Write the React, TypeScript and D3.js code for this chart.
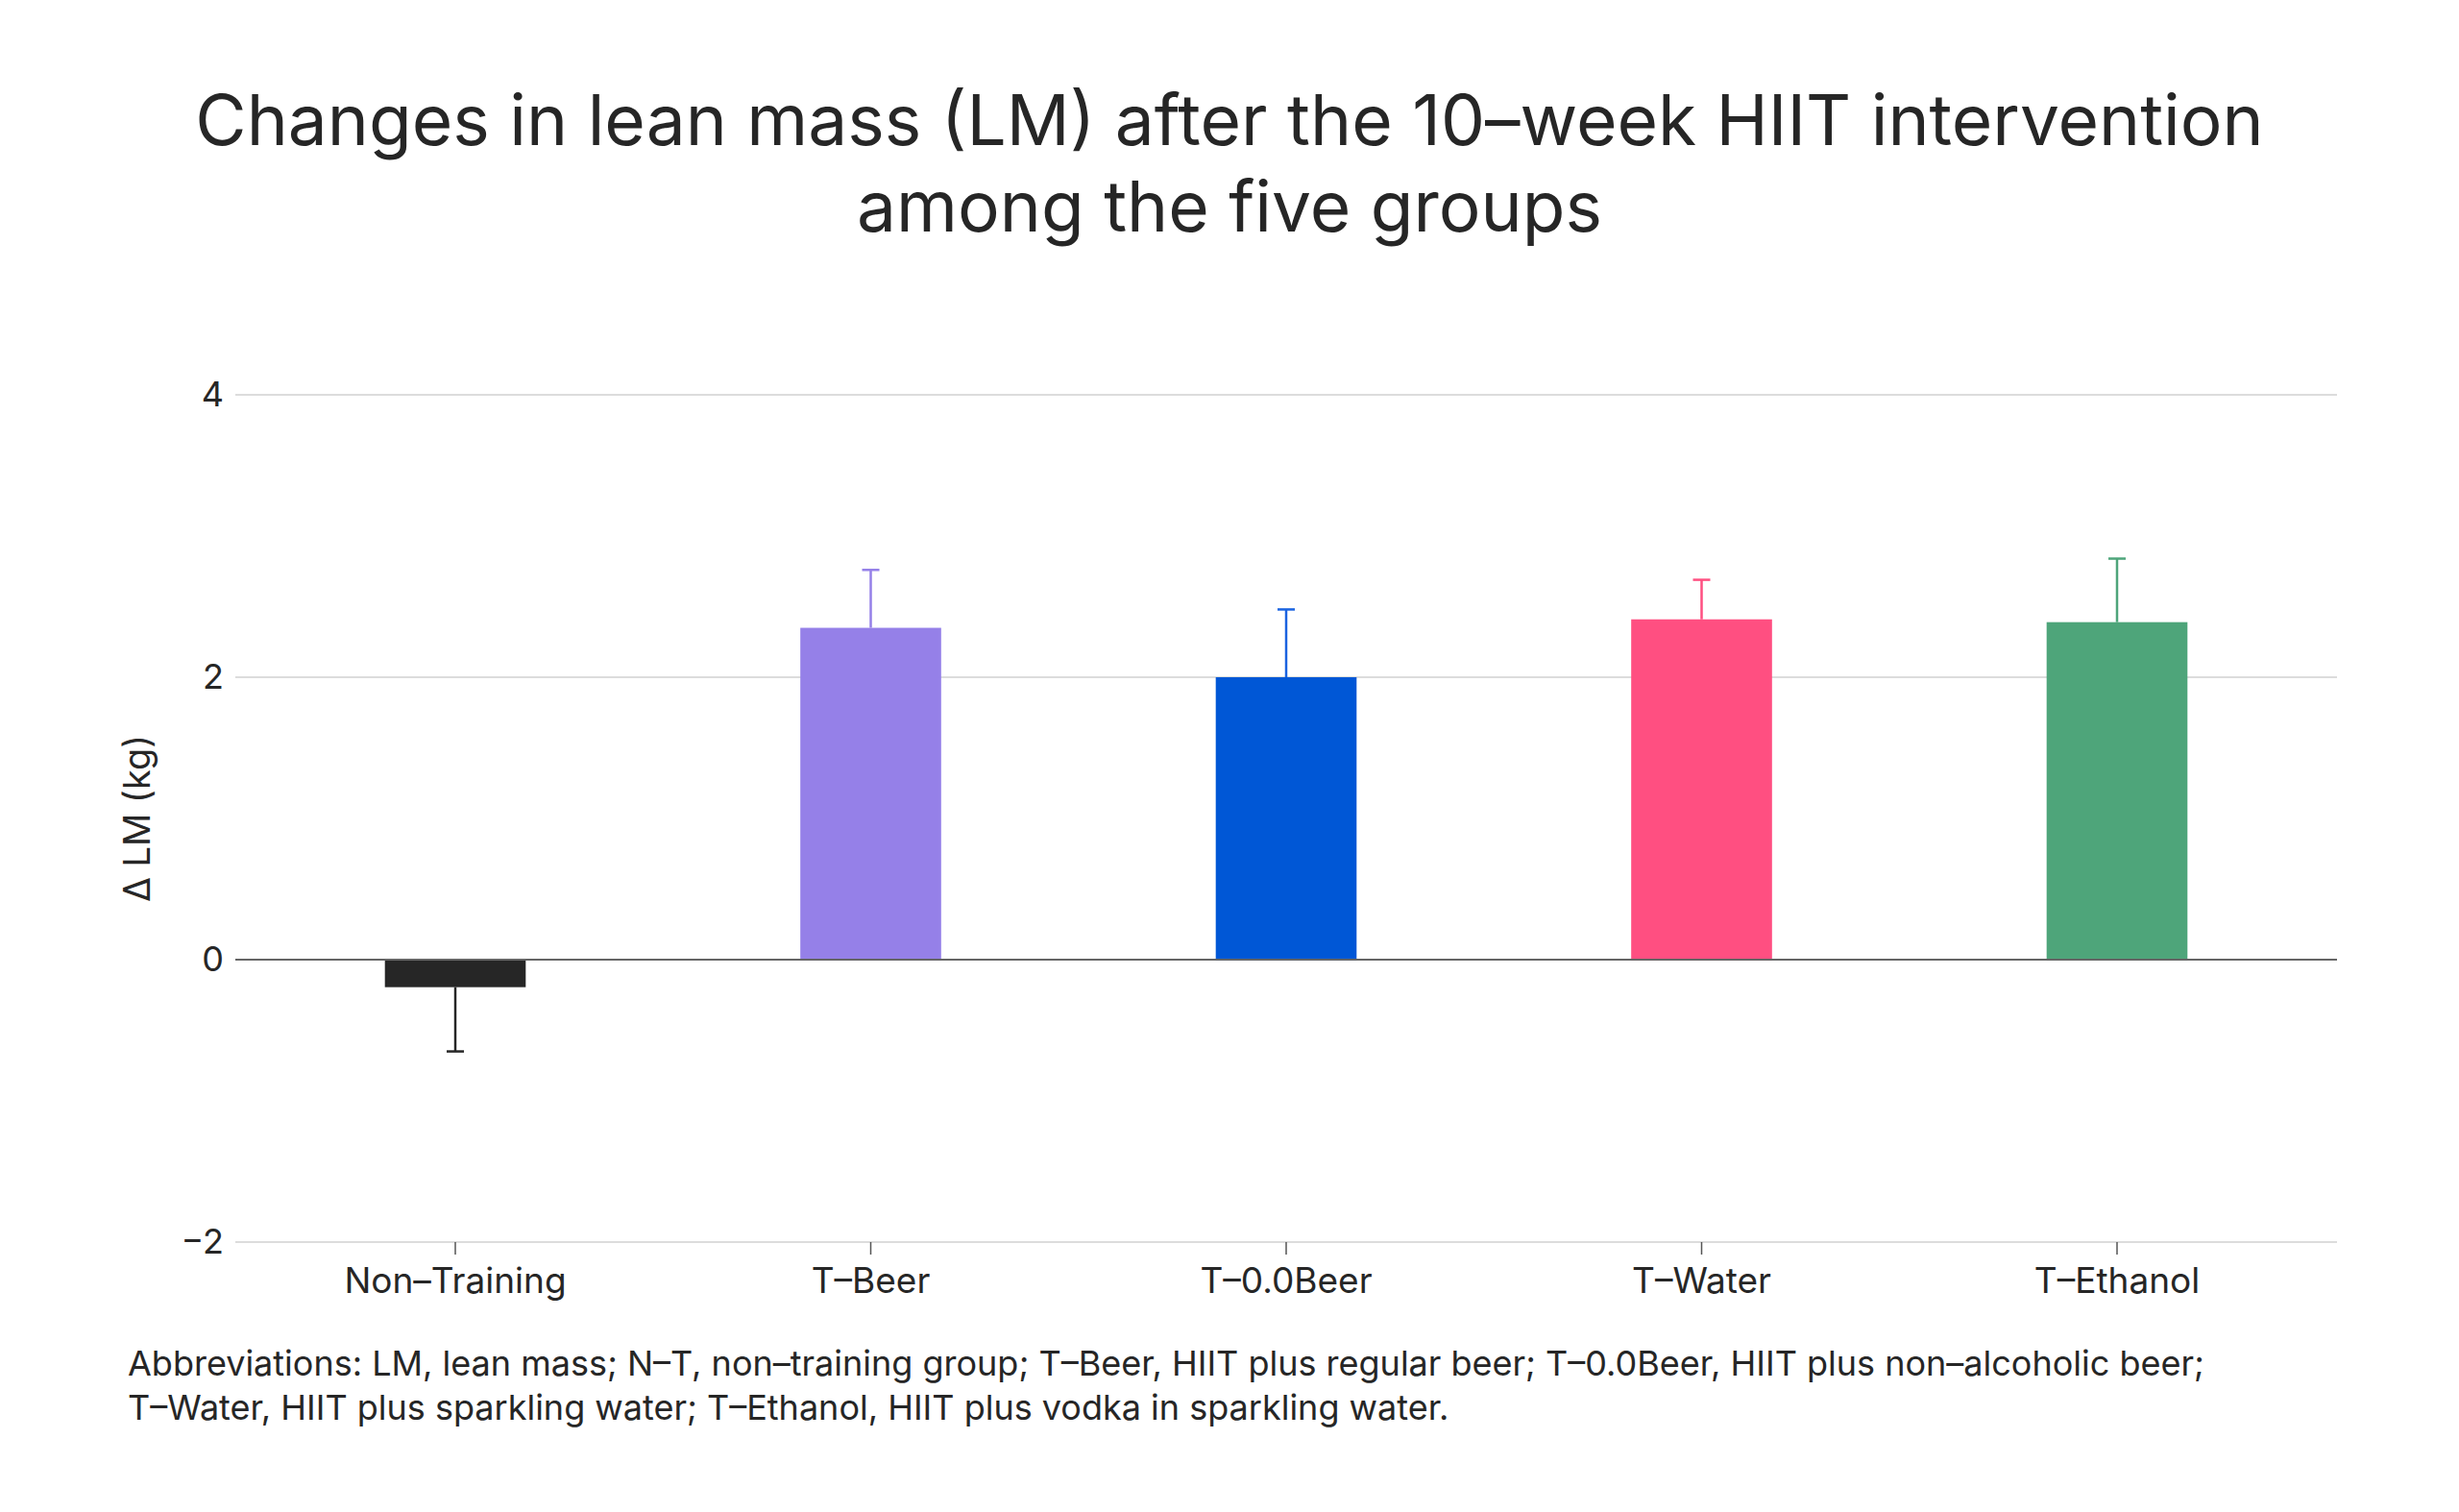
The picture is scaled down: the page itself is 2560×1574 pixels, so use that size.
import { useEffect, useRef } from 'react'
import * as d3 from 'd3'

const groups = ['Non-Training', 'T-Beer', 'T-0.0Beer', 'T-Water', 'T-Ethanol']
const meanChange = [-0.195, 2.35, 2.0, 2.41, 2.39]
const errorSize = [0.455, 0.41, 0.48, 0.28, 0.45]
const barColors = ['#262626', '#9580E8', '#0057D6', '#FF4F81', '#4EA57A']
const errorColors = ['#262626', '#9580E8', '#1A63E0', '#FF4F81', '#4EA57A']
const yTicks = [-2, 0, 2, 4]

const titleLines = [
  'Changes in lean mass (LM) after the 10-week HIIT intervention',
  'among the five groups',
]
const footnoteLines = [
  'Abbreviations: LM, lean mass; N-T, non-training group; T-Beer, HIIT plus regular beer; T-0.0Beer, HIIT plus non-alcoholic beer;',
  'T-Water, HIIT plus sparkling water; T-Ethanol, HIIT plus vodka in sparkling water.',
]

const W = 2560
const H = 1574
const FONT = 'Inter, "Noto Sans", sans-serif'
const INK = '#262626'
const dash = (s: string) => s.replace(/-/g, '\u2013')

export default function App() {
  const svgRef = useRef<SVGSVGElement>(null)

  useEffect(() => {
    document.body.style.margin = '0'
    if (!svgRef.current) return
    const svg = d3.select(svgRef.current)
    svg.selectAll('*').remove()

    const left = 245
    const right = 2433
    const top = 411
    const bottom = 1293

    const x = d3
      .scaleBand()
      .domain(groups)
      .range([left, right])
      .paddingInner(0.661)
      .paddingOuter(0.36)

    const y = d3.scaleLinear().domain([-2, 4]).range([bottom, top])

    svg.append('rect').attr('width', W).attr('height', H).attr('fill', '#fff')

    // title
    svg
      .append('g')
      .selectAll('text')
      .data(titleLines)
      .enter()
      .append('text')
      .attr('x', W / 2)
      .attr('y', (_, i) => 151 + i * 90)
      .attr('text-anchor', 'middle')
      .attr('font-family', FONT)
      .attr('font-size', 73)
      .attr('fill', INK)
      .text((d) => dash(d))

    // gridlines
    svg
      .append('g')
      .selectAll('line')
      .data(yTicks.filter((t) => t !== 0))
      .enter()
      .append('line')
      .attr('x1', left)
      .attr('x2', right)
      .attr('y1', (d) => y(d))
      .attr('y2', (d) => y(d))
      .attr('stroke', '#DCDCDC')
      .attr('stroke-width', 2)

    // y axis labels
    svg
      .append('g')
      .attr('transform', `translate(${left},0)`)
      .call(d3.axisLeft(y).tickValues(yTicks).tickSize(0).tickPadding(12).tickFormat((d) => d3.format('')(d as number).replace('-', '\u2212')))
      .call((axis) => {
        axis.select('.domain').remove()
        axis
          .selectAll('text')
          .attr('fill', INK)
          .attr('font-family', FONT)
          .attr('font-size', 36)
      })

    // bars
    svg
      .append('g')
      .selectAll('rect')
      .data(groups)
      .enter()
      .append('rect')
      .attr('x', (d) => x(d) ?? 0)
      .attr('width', x.bandwidth())
      .attr('y', (_, i) => y(Math.max(0, meanChange[i])))
      .attr('height', (_, i) => Math.abs(y(meanChange[i]) - y(0)))
      .attr('fill', (_, i) => barColors[i])

    // error bars (one-sided, away from zero)
    const err = svg.append('g').selectAll('g').data(groups).enter().append('g')
    const tip = (i: number) => meanChange[i] + Math.sign(meanChange[i]) * errorSize[i]
    const cx = (d: string) => (x(d) ?? 0) + x.bandwidth() / 2
    err
      .append('line')
      .attr('x1', cx)
      .attr('x2', cx)
      .attr('y1', (_, i) => y(meanChange[i]))
      .attr('y2', (_, i) => y(tip(i)))
      .attr('stroke', (_, i) => errorColors[i])
      .attr('stroke-width', 2.5)
    err
      .append('line')
      .attr('x1', (d) => cx(d) - 9)
      .attr('x2', (d) => cx(d) + 9)
      .attr('y1', (_, i) => y(tip(i)))
      .attr('y2', (_, i) => y(tip(i)))
      .attr('stroke', (_, i) => errorColors[i])
      .attr('stroke-width', 2.5)

    // zero line
    svg
      .append('line')
      .attr('x1', left)
      .attr('x2', right)
      .attr('y1', y(0))
      .attr('y2', y(0))
      .attr('stroke', '#666')
      .attr('stroke-width', 2)

    // x axis
    svg
      .append('g')
      .attr('transform', `translate(0,${bottom})`)
      .call(d3.axisBottom(x).tickSize(13).tickPadding(14))
      .call((axis) => {
        axis.select('.domain').remove()
        axis.selectAll('.tick line').attr('stroke', '#555').attr('stroke-width', 1.5)
        axis
          .selectAll('text')
          .attr('fill', INK)
          .attr('font-family', FONT)
          .attr('font-size', 37)
          .text((d) => dash(d as string))
      })

    // y title
    svg
      .append('text')
      .attr('transform', `translate(143,${(top + bottom) / 2}) rotate(-90)`)
      .attr('text-anchor', 'middle')
      .attr('dy', '0.35em')
      .attr('font-family', FONT)
      .attr('font-size', 38)
      .attr('fill', INK)
      .text('\u0394 LM (kg)')

    // footnote
    svg
      .append('g')
      .selectAll('text')
      .data(footnoteLines)
      .enter()
      .append('text')
      .attr('x', 133)
      .attr('y', (_, i) => 1432 + i * 46)
      .attr('font-family', FONT)
      .attr('font-size', 36)
      .attr('fill', INK)
      .text((d) => dash(d))
  }, [])

  return <svg ref={svgRef} width={W} height={H} style={{ display: 'block' }} />
}
